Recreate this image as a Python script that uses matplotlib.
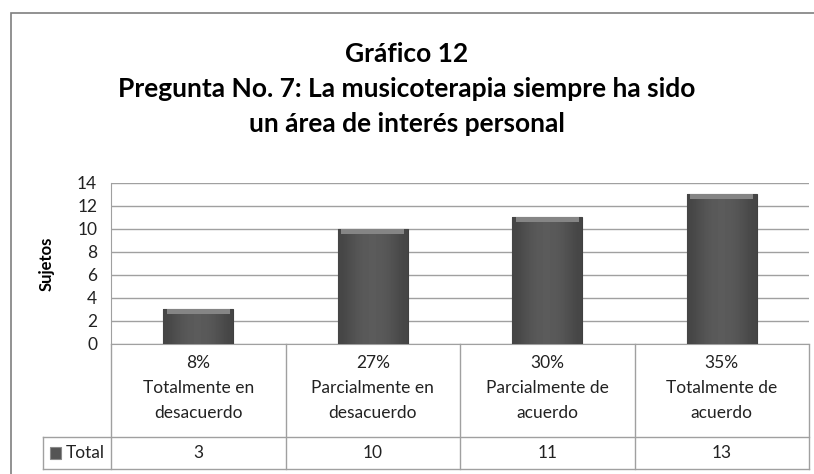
import matplotlib.pyplot as plt
import numpy as np
from matplotlib.patches import Rectangle

plt.rcParams['font.family'] = ['Lato', 'DejaVu Sans']

# datos del gráfico
categorias = ['Totalmente en\ndesacuerdo', 'Parcialmente en\ndesacuerdo',
              'Parcialmente de\nacuerdo', 'Totalmente de\nacuerdo']
porcentajes = ['8%', '27%', '30%', '35%']
sujetos = [3, 10, 11, 13]
serie = 'Total'
titulo = 'Gráfico 12\nPregunta No. 7: La musicoterapia siempre ha sido\nun área de interés personal'

fig = plt.figure(figsize=(8.14, 4.74), dpi=100)
ax = fig.add_axes([0.1364, 0.2743, 0.8575, 0.3397])

x = np.arange(len(sujetos))
vals = np.array(sujetos, dtype=float)
bars = ax.bar(x, vals, width=0.4, color='#555555', edgecolor='#404040', linewidth=0.8, zorder=3)

# degradado tipo bisel
grad = np.array([[0.27, 0.32, 0.35, 0.36, 0.35, 0.32, 0.27]])
for b in bars:
    im = ax.imshow(grad, extent=[b.get_x(), b.get_x() + b.get_width(), 0, b.get_height()],
                   cmap='gray', vmin=0, vmax=1, aspect='auto', zorder=3.5, interpolation='bicubic')
    im.set_clip_path(b)
bevel = 0.4
ax.bar(x, bevel, bottom=vals - bevel, width=0.4 * 0.9, color='#858585', zorder=4)

ax.set_xlim(-0.5, len(sujetos) - 0.5)
ax.set_ylim(0, 14)
ax.set_yticks(range(0, 15, 2))
ax.tick_params(axis='y', length=0, labelsize=12.5, pad=10, labelcolor='#222222')
ax.set_xticks([])
ax.grid(axis='y', color='#a0a0a0', linewidth=1.0, zorder=0)
for s in ['top', 'right']:
    ax.spines[s].set_visible(False)
ax.spines['left'].set_color('#a0a0a0')
ax.spines['bottom'].set_color('#a0a0a0')
ax.set_ylabel('Sujetos', fontsize=12, fontweight='bold', labelpad=16)

# tabla de datos (dibujada a mano)
t_bot = -0.776
t_mid = -0.577
t_left = -0.0974
lc = '#a0a0a0'
ax.plot([t_left, 1], [t_bot, t_bot], transform=ax.transAxes, color=lc, lw=1, clip_on=False)
ax.plot([t_left, 1], [t_mid, t_mid], transform=ax.transAxes, color=lc, lw=1, clip_on=False)
ax.plot([t_left, t_left], [t_bot, t_mid], transform=ax.transAxes, color=lc, lw=1, clip_on=False)
for i in range(len(sujetos) + 1):
    xf = i / len(sujetos)
    ax.plot([xf, xf], [t_bot, 0], transform=ax.transAxes, color=lc, lw=1, clip_on=False)

tr = ax.get_xaxis_transform()
for xi, p, c, v in zip(x, porcentajes, categorias, sujetos):
    ax.text(xi, t_mid / 2 + 0.015, p + '\n' + c, transform=tr, ha='center', va='center',
            fontsize=12.5, linespacing=1.7, color='#222222')
    ax.text(xi, (t_mid + t_bot) / 2, str(v), transform=tr, ha='center', va='center',
            fontsize=12.5, color='#222222')

# clave de la leyenda
ax.add_patch(Rectangle((-0.0874, -0.714), 0.0158, 0.0745, transform=ax.transAxes,
                       facecolor='#555555', edgecolor='#8a8a8a', linewidth=0.8, clip_on=False))
ax.text(-0.0645, (t_mid + t_bot) / 2, serie, transform=ax.transAxes, ha='left', va='center',
        fontsize=12.5, color='#222222')

fig.text(0.5, 1 - 89 / 474, titulo, ha='center', va='center', fontsize=19,
         fontweight='bold', linespacing=1.55)

# marco exterior
fig.patches.append(Rectangle((11 / 814, -0.1), 1.0, 1 - 13 / 474 + 0.1,
                             transform=fig.transFigure, fill=False,
                             edgecolor='#7f7f7f', linewidth=1.2))

fig.savefig('out.png', dpi=100)
